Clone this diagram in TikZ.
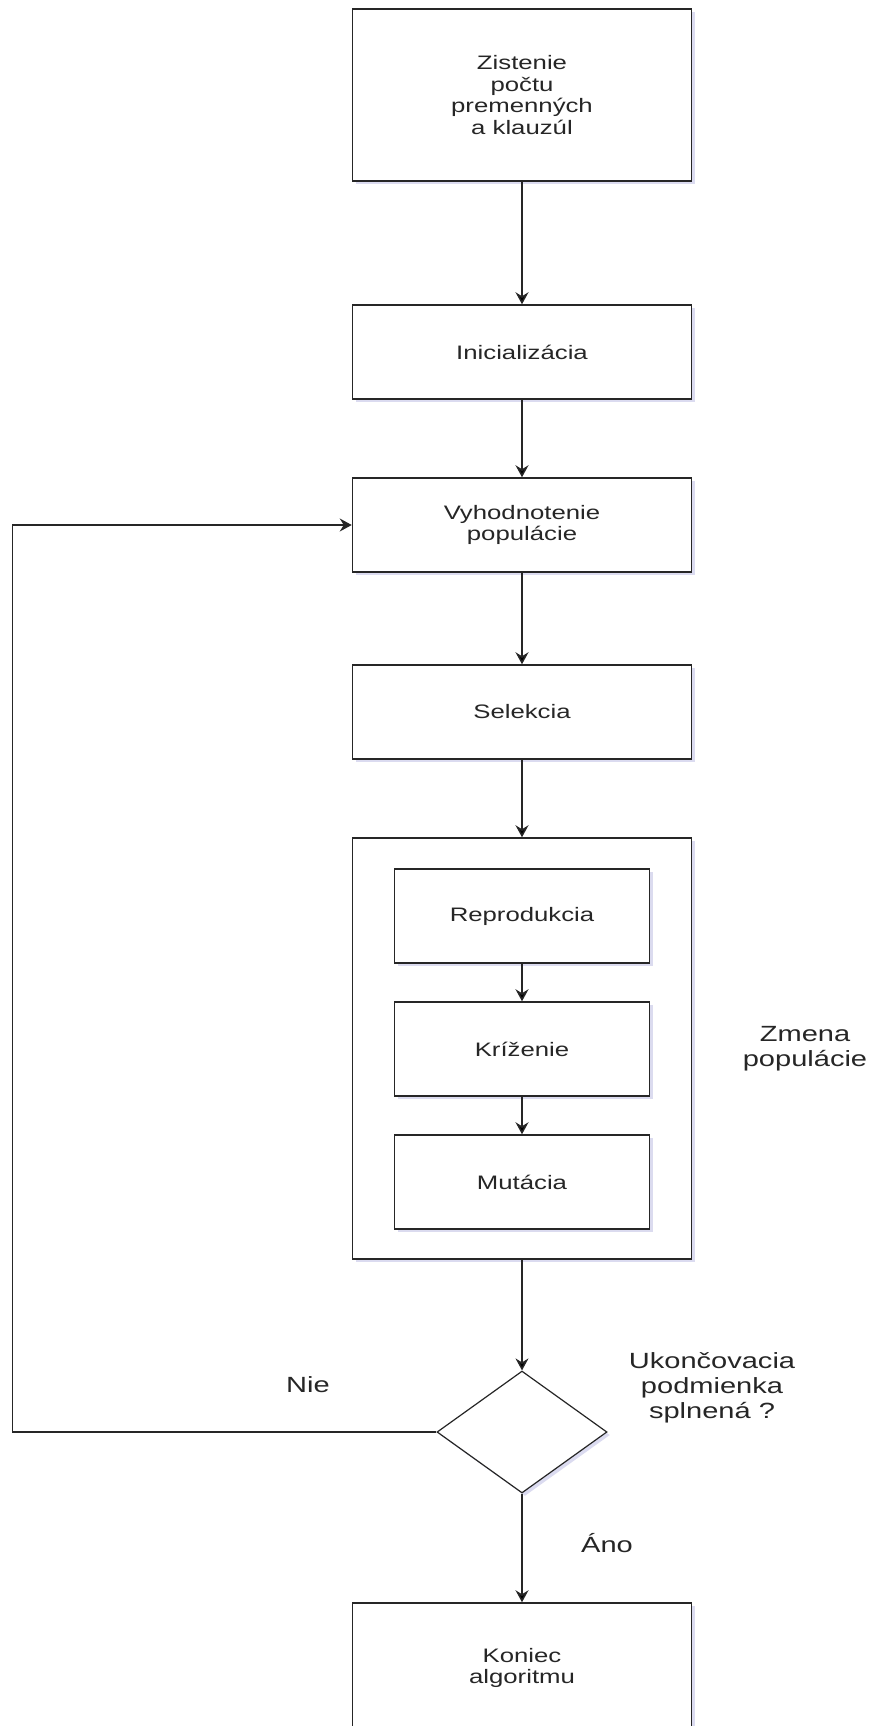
\documentclass[tikz,border=0pt]{standalone}
\usepackage{fontspec}
\newfontfamily\diafont[FakeStretch=1.32]{Liberation Sans}
\usepackage{tikz}
\usetikzlibrary{arrows.meta, positioning, shapes.geometric, shadows}

\begin{document}
\begin{tikzpicture}[x=1pt,y=1pt,on grid,>={Stealth[length=12pt,width=13pt,inset=4pt]},
        every node/.style={text=black!85,font=\diafont\fontsize{19.5}{21.7}\selectfont},
        tien/.style={drop shadow={shadow xshift=3pt,shadow yshift=-3pt,fill=blue!40!gray,opacity=0.2}},
        krok/.style={draw=black!85,line width=1.5pt,fill=white,minimum width=339pt,minimum height=94pt,align=center,tien},
        vnutro/.style={krok,minimum width=255pt},
        podm/.style={diamond,draw=black!85,line width=1.2pt,fill=white,minimum width=170pt,minimum height=122pt,inner sep=0pt,tien},
        popis/.style={align=center,font=\diafont\fontsize{22}{25}\selectfont}]

      \clip (0,0) rectangle (876,-1726);

      \node[krok,minimum height=172pt] (zist)  at (522,-95) {Zistenie\\počtu\\premenných\\a klauzúl};
      \node[krok]   (init)  [below=257pt of zist]  {Inicializácia};
      \node[krok]   (vyhod) [below=173pt of init]  {Vyhodnotenie\\populácie};
      \node[krok]   (sel)   [below=187pt of vyhod] {Selekcia};
      \node[krok,minimum height=421pt] (zmena) [below=336.5pt of sel] {};
      \node[vnutro] (repro) [below=204pt of sel]   {Reprodukcia};
      \node[vnutro] (kriz)  [below=133pt of repro] {Kríženie};
      \node[vnutro] (mut)   [below=133pt of kriz]  {Mutácia};
      \node[podm]   (dia)   [below=383.5pt of zmena] {};
      \node[krok,minimum height=130pt] (kon) [below=236pt of dia] {Koniec\\algoritmu};

      \node[popis] (zmenat) [right=283pt of zmena] {Zmena\\populácie};
      \node[popis] (otazka) [above right=44pt and 190pt of dia] {Ukončovacia\\podmienka\\splnená ?};
      \node[popis] (nie)    [above left=47pt and 214pt of dia]  {Nie};
      \node[popis] (ano)    [below right=111pt and 85pt of dia] {Áno};

      \path[->,draw=black!85,line width=1.5pt]
            (zist)  edge (init)
            (init)  edge (vyhod)
            (vyhod) edge (sel)
            (sel)   edge (zmena)
            (repro) edge (kriz)
            (kriz)  edge (mut)
            (zmena) edge (dia)
            (dia)   edge (kon);
      \draw[->,draw=black!85,line width=1.5pt] (dia.west) -- ++(-424,0) |- (vyhod.west);
\end{tikzpicture}
\end{document}
